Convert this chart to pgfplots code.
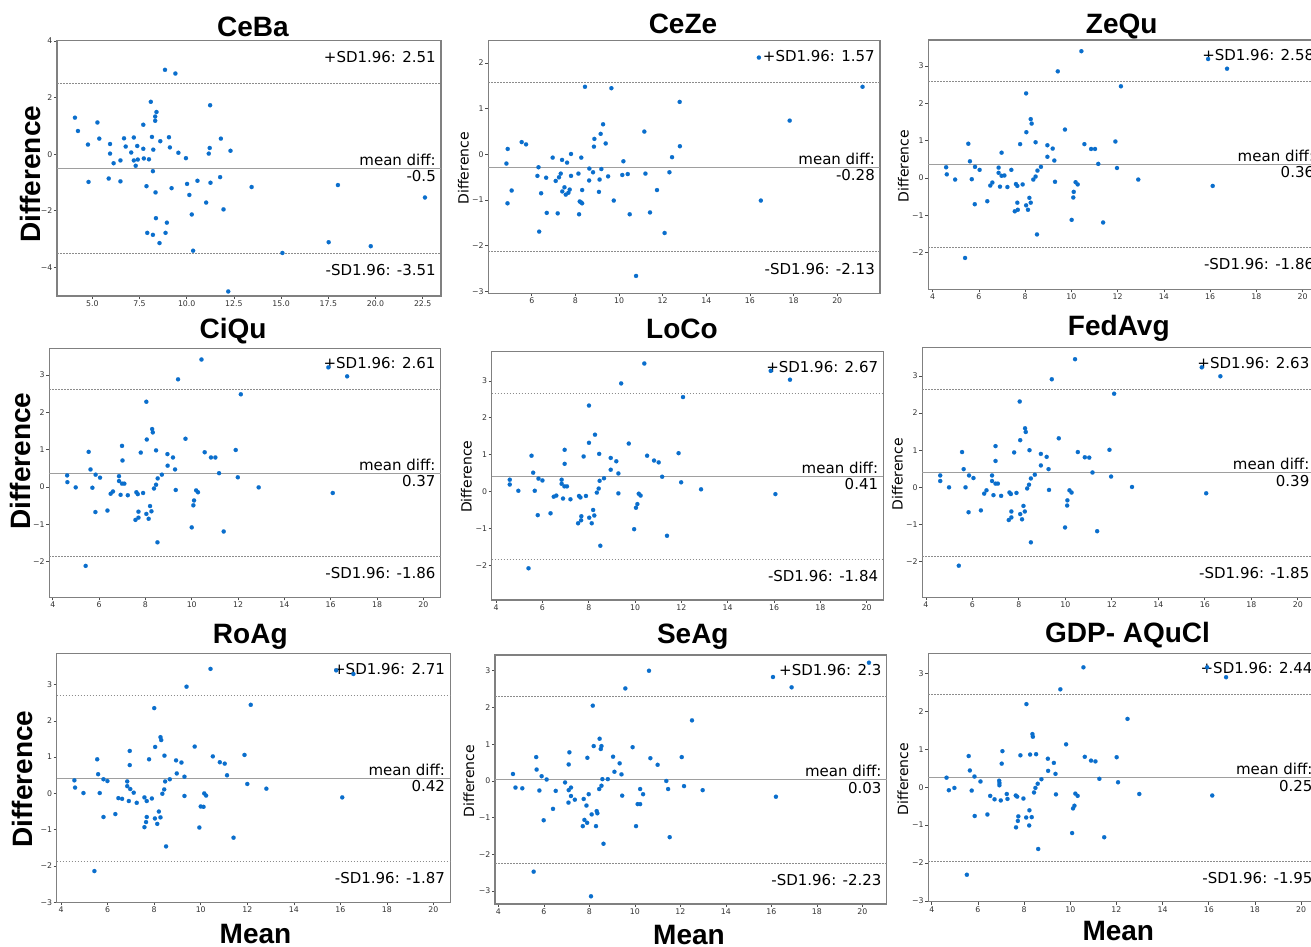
\documentclass[border=0pt]{standalone}
\usepackage{fontspec}
\setmainfont{DejaVu Sans}
\newfontfamily\arialf{Liberation Sans}
\usepackage{pgfplots}
\pgfplotsset{compat=1.18}
\definecolor{ptblue}{rgb}{0.04,0.43,0.80}
\newcommand{\ttl}{\fontsize{28}{28}\selectfont\arialf\bfseries}
\newcommand{\smlab}{\fontsize{14}{14}\selectfont}
\newcommand{\annf}{\fontsize{15}{15}\selectfont}
\newcommand{\baann}[3]{%
  \draw[black!45, line width=0.6pt, dash pattern=on 1.5pt off 1.5pt] ({rel axis cs:0,0}|-{axis cs:0,#1}) -- ({rel axis cs:1,0}|-{axis cs:0,#1});
  \draw[black!38, line width=1pt] ({rel axis cs:0,0}|-{axis cs:0,#2}) -- ({rel axis cs:1,0}|-{axis cs:0,#2});
  \draw[black!45, line width=0.6pt, dash pattern=on 1.5pt off 1.5pt] ({rel axis cs:0,0}|-{axis cs:0,#3}) -- ({rel axis cs:1,0}|-{axis cs:0,#3});
  \node[anchor=base east, inner sep=0pt, xshift=-5pt, yshift=21pt, font=\annf] at ({rel axis cs:1,0}|-{axis cs:0,#1}) {+SD1.96: #1};
  \node[anchor=base east, inner sep=0pt, xshift=-5pt, yshift=3pt, font=\annf] at ({rel axis cs:1,0}|-{axis cs:0,#2}) {mean diff:};
  \node[anchor=north east, inner sep=0pt, xshift=-5pt, yshift=-2pt, font=\annf] at ({rel axis cs:1,0}|-{axis cs:0,#2}) {#2};
  \node[anchor=north east, inner sep=0pt, xshift=-5pt, yshift=-11pt, font=\annf] at ({rel axis cs:1,0}|-{axis cs:0,#3}) {-SD1.96: #3};
}
\tikzset{pts/.style={only marks, mark=*, mark size=2.1pt, color=ptblue, fill=ptblue, mark options={fill=ptblue, draw=ptblue, line width=0.1pt}}}
\pgfplotsset{
  ba/.style={anchor=south west, scale only axis, clip=false,
    axis line style={black!50, line width=1.1pt},
    every tick/.style={black!70, line width=0.6pt},
    tick align=outside, major tick length=3pt,
    xtick pos=left, ytick pos=left,
    ticklabel style={font=\fontsize{7.8}{8}\selectfont, text=black!80, inner sep=1.5pt},
    /pgf/number format/assume math mode=true,
    xtick={4,6,...,20}, xticklabels={4,6,8,10,12,14,16,18,20},
  },
  y23/.style={ytick={-2,...,3}, yticklabels={−2,−1,0,1,2,3}},
  y33/.style={ytick={-3,...,3}, yticklabels={−3,−2,−1,0,1,2,3}},
}
\begin{document}
\begin{tikzpicture}
\path[use as bounding box] (0,0) rectangle (1311pt,947pt);
\clip (0,0) rectangle (1311pt,947pt);
% ---------- Panel 1: CeBa
\begin{axis}[ba, at={(57pt,651pt)}, width=384pt, height=255.3pt,
  xmin=3.13, xmax=23.47, ymin=-5.01, ymax=4.01,
  xtick={5,7.5,...,22.5}, xticklabels={5.0,7.5,10.0,12.5,15.0,17.5,20.0,22.5},
  ytick={-4,-2,0,2,4}, yticklabels={−4,−2,0,2,4}]
\addplot[pts] coordinates {(4.08,1.29)(4.24,0.82)(4.77,0.34)(4.80,-0.98)(5.27,1.12)(5.37,0.55)(5.87,-0.86)(5.94,0.36)(5.94,0.02)(6.13,-0.32)(6.49,-0.22)(6.49,-0.96)(6.68,0.56)(6.77,0.27)(7.06,0.06)(7.20,0.59)(7.20,-0.22)(7.30,-0.41)(7.38,0.29)(7.41,-0.19)(7.70,1.04)(7.70,0.19)(7.73,-0.15)(7.87,-1.13)(7.91,-2.78)(8.00,-0.18)(8.10,1.85)(8.16,0.61)(8.21,-0.60)(8.21,-2.85)(8.23,0.16)(8.33,1.33)(8.33,1.18)(8.35,-1.35)(8.37,-2.26)(8.40,1.49)(8.56,-3.14)(8.60,0.46)(8.85,2.98)(8.88,-2.78)(8.95,-2.42)(9.06,0.60)(9.11,0.24)(9.20,-1.20)(9.40,2.85)(9.56,0.05)(9.96,-0.14)(10.02,-1.05)(10.14,-1.44)(10.27,-2.13)(10.34,-3.41)(10.57,-0.94)(11.03,-1.71)(11.17,0.02)(11.22,0.22)(11.24,1.73)(11.26,-1.01)(11.77,-0.81)(11.81,0.55)(11.95,-1.95)(12.20,-4.85)(12.32,0.12)(13.44,-1.16)(15.07,-3.49)(17.52,-3.11)(18.01,-1.09)(19.75,-3.25)(22.62,-1.53)};
\baann{2.51}{-0.5}{-3.51}
\end{axis}
% ---------- Panel 2: CeZe
\begin{axis}[ba, at={(488.3pt,653.7pt)}, width=391.7pt, height=252.6pt,
  xmin=4.01, xmax=21.96, ymin=-3.04, ymax=2.49,
  xtick={6,8,...,20}, xticklabels={6,8,10,12,14,16,18,20},
  ytick={-3,...,2}, yticklabels={−3,−2,−1,0,1,2}]
\addplot[pts] coordinates {(4.84,-0.20)(4.90,0.12)(4.89,-1.07)(5.08,-0.79)(5.54,0.27)(5.74,0.22)(6.26,-0.47)(6.31,-0.28)(6.34,-1.69)(6.43,-0.85)(6.66,-0.51)(6.69,-1.28)(6.96,-0.07)(7.10,-0.58)(7.19,-1.29)(7.25,-0.50)(7.33,-0.42)(7.39,-0.12)(7.40,-0.81)(7.50,-0.72)(7.56,-0.88)(7.62,-0.18)(7.68,-0.84)(7.74,-0.77)(7.80,-0.47)(7.80,0.01)(8.14,-0.42)(8.17,-1.31)(8.20,-1.03)(8.26,-1.05)(8.31,-1.07)(8.27,-0.07)(8.31,-0.78)(8.44,1.48)(8.63,-0.57)(8.64,-0.31)(8.81,-0.39)(8.85,0.17)(8.87,0.34)(9.08,-0.82)(9.11,-0.55)(9.16,0.45)(9.19,-0.32)(9.27,0.66)(9.39,0.24)(9.50,-0.48)(9.65,1.45)(9.76,-1.01)(10.15,-0.45)(10.20,-0.15)(10.40,-0.43)(10.49,-1.31)(10.78,-2.66)(11.16,0.50)(11.21,-0.42)(11.42,-1.27)(11.74,-0.78)(12.09,-1.72)(12.31,-0.39)(12.43,-0.06)(12.78,1.15)(12.79,0.18)(16.41,2.12)(16.50,-1.01)(17.82,0.74)(21.16,1.48)};
\baann{1.57}{-0.28}{-2.13}
\end{axis}
% ---------- Panel 3: ZeQu
\begin{axis}[ba, y23, at={(928.3pt,657.7pt)}, width=391pt, height=249.3pt,
  xmin=3.81, xmax=20.72, ymin=-2.98, ymax=3.70]
\addplot[pts] coordinates {(4.58,0.29)(4.61,0.10)(4.97,-0.04)(5.40,-2.14)(5.54,0.92)(5.61,0.45)(5.69,-0.03)(5.82,-0.70)(5.83,0.30)(6.03,0.22)(6.36,-0.62)(6.49,-0.20)(6.58,-0.12)(6.85,0.28)(6.85,0.14)(6.91,-0.23)(6.98,0.68)(6.98,0.06)(7.10,0.07)(7.23,-0.24)(7.40,0.22)(7.55,-0.89)(7.60,-0.16)(7.66,-0.21)(7.66,-0.66)(7.68,-0.85)(7.78,0.91)(7.89,-0.17)(8.04,-0.73)(8.04,2.27)(8.05,1.23)(8.12,-0.85)(8.18,-0.53)(8.24,-0.66)(8.24,1.58)(8.28,1.46)(8.35,-0.04)(8.45,0.04)(8.45,0.96)(8.51,-1.51)(8.53,0.20)(8.68,0.30)(8.96,0.88)(8.96,0.57)(9.19,0.79)(9.26,0.47)(9.29,-0.10)(9.41,2.86)(9.72,1.30)(10.01,-1.12)(10.08,-0.52)(10.10,-0.37)(10.18,-0.11)(10.27,-0.17)(10.43,3.40)(10.56,0.91)(10.85,0.78)(11.02,0.78)(11.16,0.38)(11.37,-1.19)(11.90,0.98)(11.97,0.27)(12.14,2.46)(12.89,-0.04)(15.91,3.19)(16.11,-0.21)(16.73,2.93)};
\baann{2.58}{0.36}{-1.86}
\end{axis}
% ---------- Panel 4: CiQu
\begin{axis}[ba, y23, at={(49.3pt,349.7pt)}, width=391.4pt, height=249pt,
  xmin=3.85, xmax=20.75, ymin=-2.95, ymax=3.71]
\addplot[pts] coordinates {(4.62,0.31)(4.63,0.13)(4.99,-0.01)(5.42,-2.11)(5.55,0.94)(5.63,0.47)(5.71,-0.02)(5.84,-0.67)(5.85,0.33)(6.04,0.25)(6.36,-0.63)(6.50,-0.18)(6.60,-0.12)(6.86,0.29)(6.86,0.16)(6.93,-0.21)(6.99,1.10)(7.01,0.71)(6.99,0.09)(7.09,0.09)(7.24,-0.22)(7.57,-0.88)(7.61,-0.14)(7.67,-0.19)(7.70,-0.66)(7.70,-0.82)(7.80,0.92)(7.90,-0.16)(8.04,-0.72)(8.04,2.28)(8.06,1.27)(8.14,-0.85)(8.20,-0.51)(8.26,-0.65)(8.29,1.55)(8.32,1.46)(8.37,-0.04)(8.46,0.06)(8.46,0.98)(8.52,-1.48)(8.53,0.23)(8.71,0.33)(8.95,0.88)(8.96,0.57)(9.19,0.79)(9.28,0.47)(9.31,-0.08)(9.41,2.88)(9.73,1.29)(10.00,-1.08)(10.07,-0.49)(10.10,-0.36)(10.19,-0.09)(10.27,-0.14)(10.42,3.41)(10.56,0.93)(10.83,0.79)(11.02,0.79)(11.18,0.37)(11.38,-1.19)(11.90,0.99)(11.99,0.26)(12.12,2.48)(12.89,-0.01)(15.90,3.20)(16.09,-0.16)(16.71,2.96)};
\baann{2.61}{0.37}{-1.86}
\end{axis}
% ---------- Panel 5: LoCo
\begin{axis}[ba, y23, at={(491.7pt,347pt)}, width=391.6pt, height=248.3pt,
  xmin=3.81, xmax=20.72, ymin=-2.94, ymax=3.79]
\addplot[pts] coordinates {(4.59,0.32)(4.59,0.19)(4.96,0.02)(5.40,-2.08)(5.53,0.97)(5.60,0.51)(5.67,0.02)(5.80,-0.64)(5.83,0.35)(6.00,0.30)(6.35,-0.59)(6.49,-0.14)(6.60,-0.11)(6.83,0.32)(6.83,0.21)(6.89,-0.19)(6.96,1.13)(6.96,0.75)(6.95,0.14)(7.06,0.14)(7.21,-0.21)(7.54,-0.86)(7.58,-0.12)(7.64,-0.16)(7.68,-0.67)(7.67,-0.78)(7.78,0.95)(7.88,-0.12)(8.02,-0.71)(8.01,2.33)(8.01,1.32)(8.13,-0.86)(8.19,-0.50)(8.24,-0.65)(8.27,1.54)(8.35,-0.03)(8.43,0.08)(8.45,1.02)(8.50,-1.47)(8.47,0.29)(8.66,0.36)(8.95,0.91)(8.95,0.59)(9.19,0.82)(9.28,0.49)(9.28,-0.05)(9.40,2.93)(9.73,1.30)(9.96,-1.02)(10.04,-0.44)(10.10,-0.34)(10.16,-0.06)(10.24,-0.11)(10.40,3.47)(10.52,0.97)(10.82,0.84)(11.02,0.79)(11.17,0.40)(11.38,-1.20)(11.88,1.04)(11.99,0.25)(12.07,2.56)(12.85,0.06)(15.86,3.27)(16.06,-0.07)(16.69,3.03)};
\baann{2.67}{0.41}{-1.84}
\end{axis}
% ---------- Panel 6: FedAvg
\begin{axis}[ba, y23, at={(922.3pt,349.7pt)}, width=392.2pt, height=250pt,
  xmin=3.85, xmax=20.72, ymin=-2.96, ymax=3.77]
\addplot[pts] coordinates {(4.62,0.32)(4.62,0.17)(5.00,0.00)(5.42,-2.11)(5.56,0.95)(5.63,0.49)(5.71,0.00)(5.84,-0.67)(5.86,0.32)(6.05,0.25)(6.37,-0.62)(6.51,-0.17)(6.61,-0.08)(6.85,0.32)(6.85,0.17)(6.91,-0.21)(7.00,1.11)(7.00,0.71)(7.00,0.10)(7.10,0.10)(7.24,-0.23)(7.57,-0.88)(7.60,-0.14)(7.66,-0.18)(7.68,-0.65)(7.68,-0.81)(7.80,0.94)(7.90,-0.15)(8.06,-0.72)(8.04,2.31)(8.06,1.27)(8.14,-0.86)(8.20,-0.50)(8.26,-0.65)(8.27,1.59)(8.30,1.49)(8.36,-0.03)(8.44,0.07)(8.46,1.00)(8.52,-1.48)(8.52,0.24)(8.69,0.34)(8.95,0.90)(8.95,0.59)(9.20,0.82)(9.28,0.49)(9.30,-0.07)(9.42,2.91)(9.72,1.32)(9.99,-1.08)(10.08,-0.49)(10.09,-0.35)(10.18,-0.08)(10.27,-0.14)(10.42,3.45)(10.54,0.95)(10.84,0.81)(11.03,0.80)(11.17,0.40)(11.37,-1.18)(11.90,1.01)(11.97,0.29)(12.10,2.52)(12.87,0.01)(15.87,3.23)(16.06,-0.16)(16.67,2.99)};
\baann{2.63}{0.39}{-1.85}
\end{axis}
% ---------- Panel 7: RoAg
\begin{axis}[ba, y33, at={(56.7pt,44.7pt)}, width=393.5pt, height=249pt,
  xmin=3.81, xmax=20.72, ymin=-3.0, ymax=3.86]
\addplot[pts] coordinates {(4.57,0.36)(4.60,0.16)(4.96,0.01)(5.43,-2.14)(5.55,0.94)(5.59,0.53)(5.66,0.01)(5.82,-0.65)(5.82,0.39)(5.99,0.34)(6.33,-0.57)(6.46,-0.13)(6.62,-0.15)(6.84,0.33)(6.84,0.20)(6.91,-0.21)(6.95,1.17)(6.95,0.78)(6.97,0.12)(7.12,0.02)(7.25,-0.26)(7.58,-0.93)(7.58,-0.11)(7.68,-0.21)(7.68,-0.65)(7.65,-0.79)(7.78,0.94)(7.90,-0.14)(8.03,-0.69)(8.00,2.35)(8.04,1.28)(8.13,-0.84)(8.20,-0.50)(8.27,-0.66)(8.27,1.55)(8.30,1.47)(8.35,-0.01)(8.43,0.11)(8.44,1.04)(8.51,-1.46)(8.47,0.33)(8.67,0.39)(8.94,0.91)(8.97,0.55)(9.17,0.85)(9.30,0.46)(9.30,-0.07)(9.39,2.94)(9.74,1.29)(9.94,-0.94)(10.00,-0.36)(10.12,-0.37)(10.15,0.00)(10.23,-0.06)(10.42,3.43)(10.52,1.02)(10.82,0.86)(11.03,0.82)(11.13,0.50)(11.41,-1.22)(11.88,1.06)(12.00,0.26)(12.15,2.44)(12.82,0.13)(15.82,3.39)(16.08,-0.11)(16.56,3.29)};
\baann{2.71}{0.42}{-1.87}
\end{axis}
% ---------- Panel 8: SeAg
\begin{axis}[ba, y33, at={(495pt,43pt)}, width=391.7pt, height=249pt,
  xmin=3.85, xmax=21.07, ymin=-3.35, ymax=3.43]
\addplot[pts] coordinates {(4.64,0.19)(4.75,-0.18)(5.05,-0.20)(5.55,-2.47)(5.66,0.65)(5.68,0.31)(5.80,-0.26)(5.90,0.13)(5.99,-1.07)(6.12,0.04)(6.40,-0.76)(6.52,-0.27)(6.93,-0.04)(7.08,-0.59)(7.09,0.45)(7.09,-0.25)(7.12,0.78)(7.19,-0.18)(7.19,-0.41)(7.36,-0.51)(7.71,-1.23)(7.75,-0.49)(7.78,-1.06)(7.87,-0.67)(7.90,-1.14)(7.91,0.63)(7.97,-0.36)(8.07,-3.14)(8.10,-0.91)(8.15,2.05)(8.19,0.95)(8.29,-1.23)(8.32,-0.82)(8.35,-0.88)(8.43,-0.22)(8.45,1.15)(8.50,0.87)(8.53,0.95)(8.53,-0.13)(8.57,0.05)(8.62,-1.71)(8.81,0.05)(9.04,0.66)(9.10,0.25)(9.33,0.48)(9.41,0.18)(9.44,-0.40)(9.58,2.52)(9.90,0.92)(10.05,-1.23)(10.12,-0.63)(10.23,-0.22)(10.23,-0.63)(10.36,-0.36)(10.62,3.00)(10.68,0.62)(11.00,0.44)(11.38,0.00)(11.46,-0.22)(11.53,-1.53)(12.06,0.65)(12.16,-0.14)(12.51,1.65)(12.98,-0.25)(16.07,2.83)(16.20,-0.43)(16.89,2.55)(20.29,3.22)};
\baann{2.3}{0.03}{-2.23}
\end{axis}
% ---------- Panel 9: GDP- AQuCl
\begin{axis}[ba, y33, at={(928.3pt,45.3pt)}, width=389.4pt, height=248.4pt,
  xmin=3.85, xmax=20.72, ymin=-3.02, ymax=3.53]
\addplot[pts] coordinates {(4.64,0.25)(4.74,-0.08)(4.98,-0.02)(5.52,-2.31)(5.60,0.82)(5.65,0.44)(5.73,-0.09)(5.86,-0.76)(5.85,0.28)(6.11,0.15)(6.41,-0.72)(6.53,-0.23)(6.72,-0.32)(6.92,0.17)(6.93,0.11)(6.93,0.05)(6.99,-0.35)(7.06,0.95)(7.03,0.62)(7.25,-0.18)(7.28,-0.31)(7.64,-0.22)(7.65,-1.06)(7.70,-0.25)(7.73,-0.89)(7.75,-0.77)(7.84,0.84)(7.97,-0.30)(8.09,-0.80)(8.10,2.19)(8.22,-1.01)(8.23,-0.61)(8.26,0.86)(8.33,-0.79)(8.36,1.40)(8.38,1.33)(8.43,-0.14)(8.49,-0.02)(8.52,0.87)(8.61,-1.63)(8.59,0.09)(8.75,0.21)(9.03,0.75)(9.04,0.43)(9.29,0.64)(9.36,0.35)(9.38,-0.19)(9.57,2.58)(9.82,1.13)(10.08,-1.21)(10.12,-0.56)(10.18,-0.49)(10.22,-0.17)(10.32,-0.23)(10.57,3.16)(10.63,0.80)(10.90,0.70)(11.09,0.68)(11.26,0.22)(11.47,-1.32)(12.01,0.79)(12.07,0.13)(12.48,1.80)(12.99,-0.18)(15.93,3.16)(16.15,-0.22)(16.75,2.90)};
\baann{2.44}{0.25}{-1.95}
\end{axis}
% ---------- titles
\node[anchor=base, font=\ttl] at (253pt,910.3pt) {CeBa};
\node[anchor=base, font=\ttl] at (683pt,913.7pt) {CeZe};
\node[anchor=base, font=\ttl] at (1121.7pt,913.7pt) {ZeQu};
\node[anchor=base, font=\ttl] at (233pt,608.7pt) {CiQu};
\node[anchor=base, font=\ttl] at (682pt,608.7pt) {LoCo};
\node[anchor=base, font=\ttl] at (1118.8pt,611pt) {FedAvg};
\node[anchor=base, font=\ttl] at (250.3pt,303.7pt) {RoAg};
\node[anchor=base, font=\ttl] at (692.8pt,303.7pt) {SeAg};
\node[anchor=base, font=\ttl] at (1127.5pt,304.7pt) {GDP- AQuCl};
% ---------- y labels
\node[rotate=90, font=\ttl] at (30pt,772.7pt) {Difference};
\node[rotate=90, font=\ttl] at (20pt,486pt) {Difference};
\node[rotate=90, font=\ttl] at (22pt,168pt) {Difference};
\node[rotate=90, font=\smlab] at (463.5pt,778.7pt) {Difference};
\node[rotate=90, font=\smlab] at (903.5pt,781pt) {Difference};
\node[rotate=90, font=\smlab] at (466.5pt,470.3pt) {Difference};
\node[rotate=90, font=\smlab] at (897.5pt,473pt) {Difference};
\node[rotate=90, font=\smlab] at (469pt,166pt) {Difference};
\node[rotate=90, font=\smlab] at (903pt,168pt) {Difference};
% ---------- x labels
\node[anchor=base, font=\ttl] at (255.5pt,3.7pt) {Mean};
\node[anchor=base, font=\ttl] at (689pt,2pt) {Mean};
\node[anchor=base, font=\ttl] at (1118.3pt,6pt) {Mean};
\end{tikzpicture}
\end{document}
